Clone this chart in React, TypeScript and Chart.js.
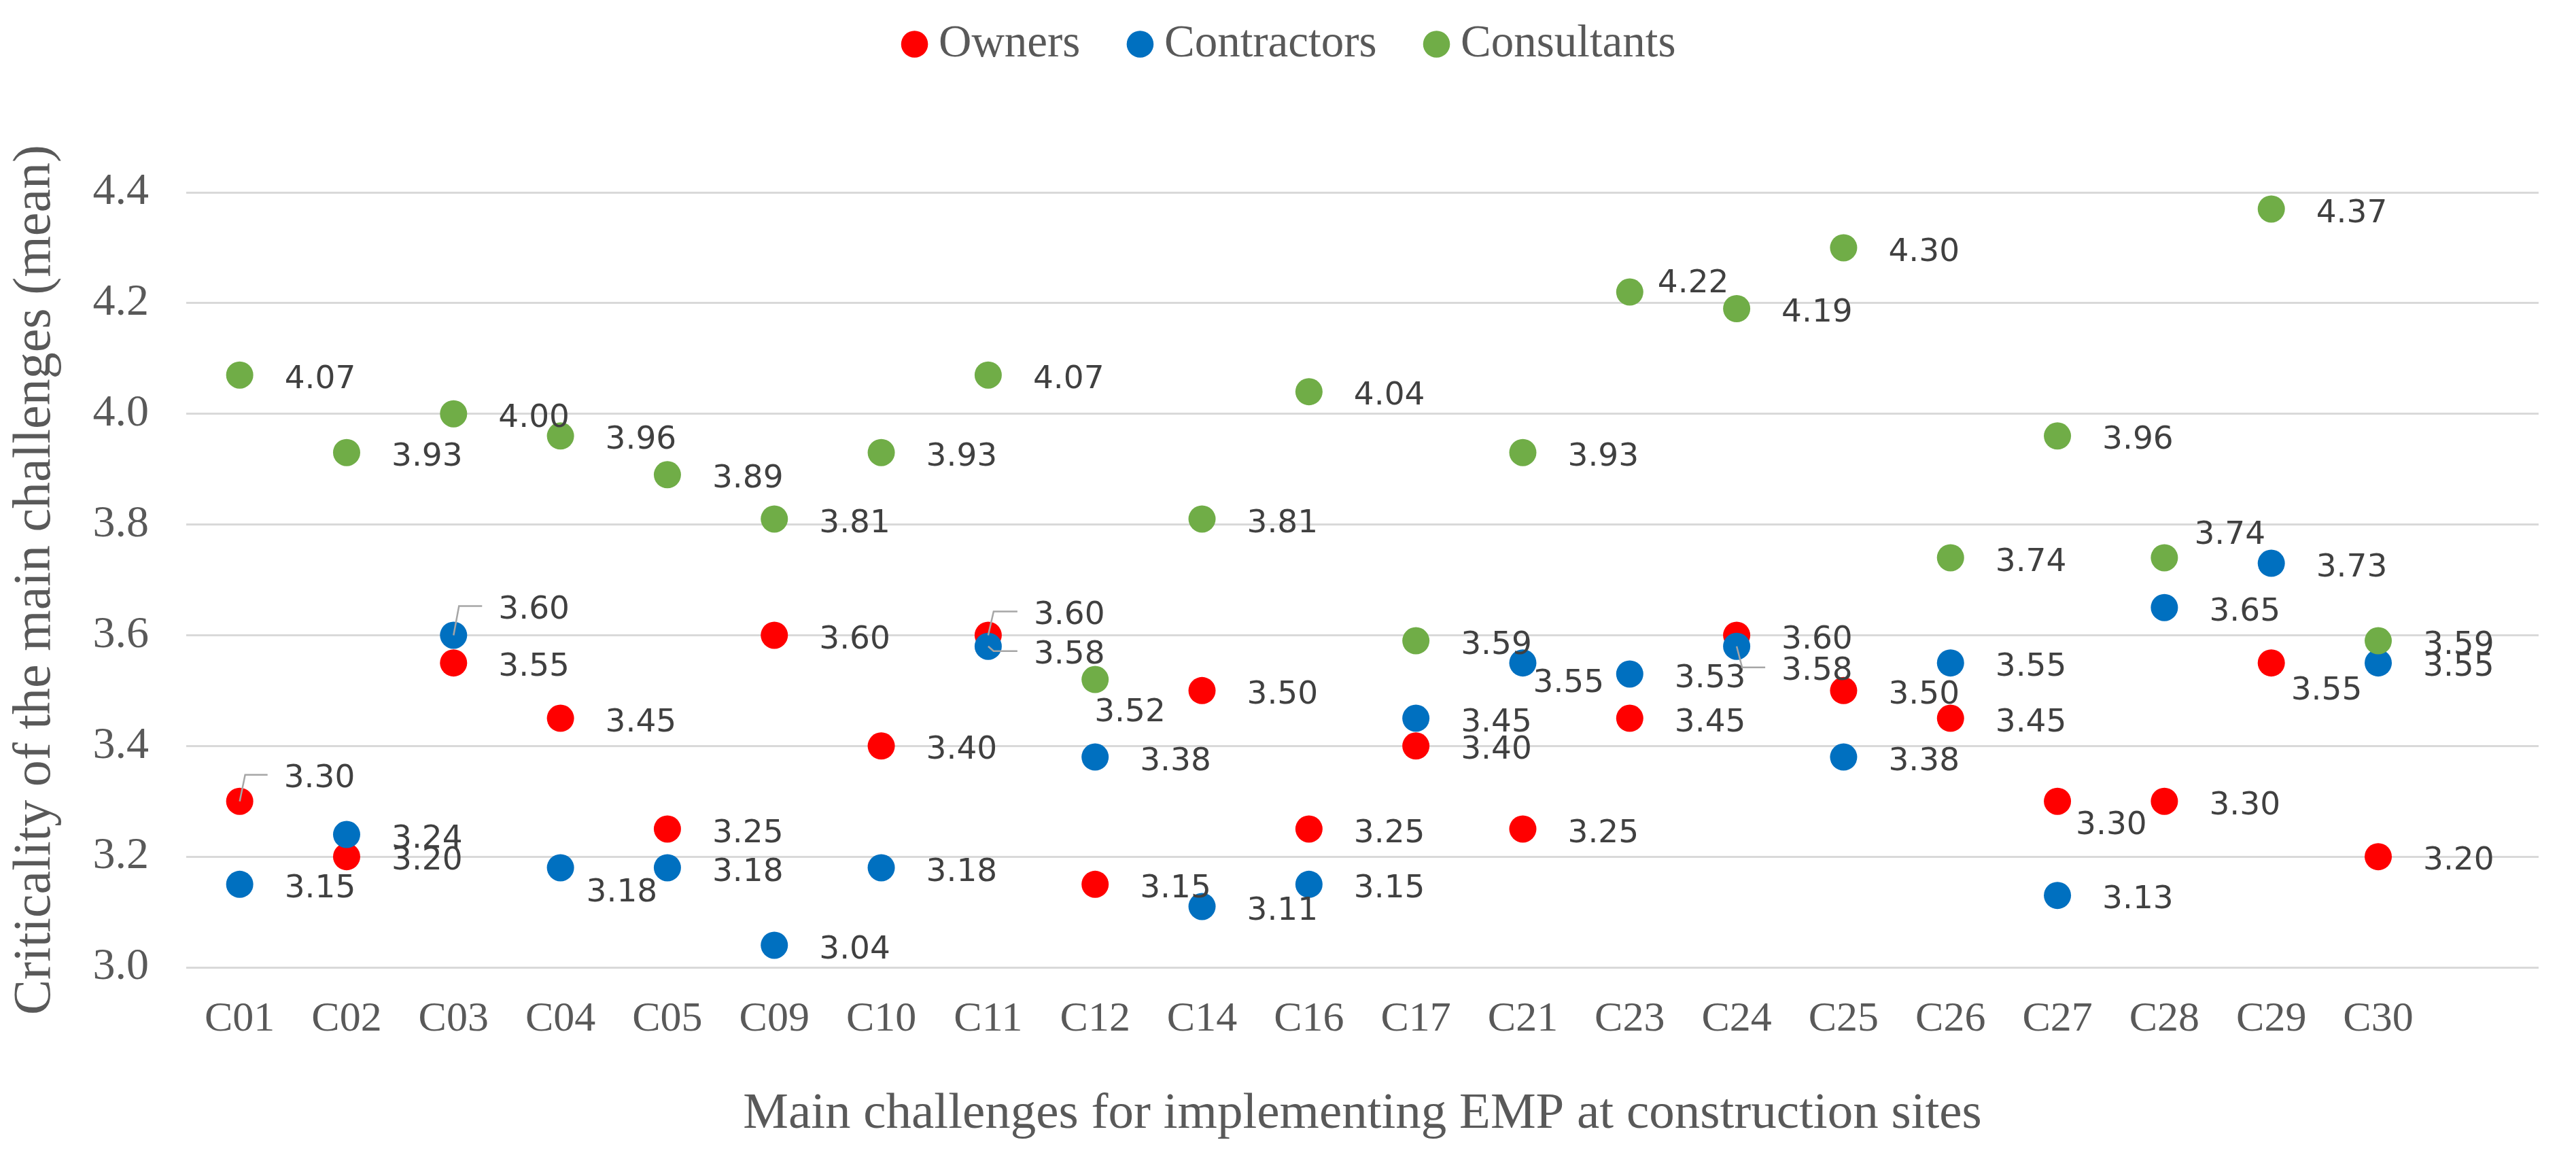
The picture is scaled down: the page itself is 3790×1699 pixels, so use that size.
import React, { useEffect, useRef } from 'react';
import { Chart, registerables } from 'chart.js';

Chart.register(...registerables);

// ---- data ----
const categories = ['C01', 'C02', 'C03', 'C04', 'C05', 'C09', 'C10', 'C11', 'C12', 'C14', 'C16', 'C17', 'C21', 'C23', 'C24', 'C25', 'C26', 'C27', 'C28', 'C29', 'C30', ''];
const seriesNames = ['Owners', 'Contractors', 'Consultants'];
const owners = [3.30, 3.20, 3.55, 3.45, 3.25, 3.60, 3.40, 3.60, 3.15, 3.50, 3.25, 3.40, 3.25, 3.45, 3.60, 3.50, 3.45, 3.30, 3.30, 3.55, 3.20];
const contractors = [3.15, 3.24, 3.60, 3.18, 3.18, 3.04, 3.18, 3.58, 3.38, 3.11, 3.15, 3.45, 3.55, 3.53, 3.58, 3.38, 3.55, 3.13, 3.65, 3.73, 3.55];
const consultants = [4.07, 3.93, 4.00, 3.96, 3.89, 3.81, 3.93, 4.07, 3.52, 3.81, 4.04, 3.59, 3.93, 4.22, 4.19, 4.30, 3.74, 3.96, 3.74, 4.37, 3.59];
const yMin = 3.0;
const yMax = 4.4;
const yStep = 0.2;
const xTitle = 'Main challenges for implementing EMP at construction sites';
const yTitle = 'Criticality of the main challenges (mean)';

// ---- styles ----
const colors = ['#FF0000', '#0070C0', '#70AD47'];
const textGray = '#595959';
const labelGray = '#404040';
const serif = '"Liberation Serif", "Times New Roman", serif';
const sans = '"DejaVu Sans", Verdana, sans-serif';

// label nudges (relative to the point), keyed "series-index"
const defaultNudge = { dx: 66, dy: 7, leader: false };
const labelNudges: Record<string, { dx: number; dy: number; leader?: boolean }> = {
  '0-0': { dx: 65, dy: -33, leader: true },
  '0-7': { dx: 67, dy: -29, leader: true },
  '0-17': { dx: 27, dy: 36 },
  '0-19': { dx: 29, dy: 42 },
  '1-2': { dx: 66, dy: -37, leader: true },
  '1-3': { dx: 38, dy: 37 },
  '1-7': { dx: 67, dy: 13, leader: true },
  '1-12': { dx: 15, dy: 31 },
  '1-14': { dx: 66, dy: 37, leader: true },
  '2-8': { dx: -1, dy: 49 },
  '2-13': { dx: 41, dy: -12 },
  '2-18': { dx: 44, dy: -33 },
};

const valueLabels = {
  id: 'valueLabels',
  afterDatasetsDraw(chart: any) {
    const ctx = chart.ctx;
    ctx.save();
    ctx.font = `47px ${sans}`;
    ctx.textAlign = 'left';
    ctx.textBaseline = 'middle';
    chart.data.datasets.forEach((ds: any, di: number) => {
      const meta = chart.getDatasetMeta(di);
      meta.data.forEach((pt: any, i: number) => {
        const v = ds.data[i];
        if (v == null) return;
        const n = labelNudges[`${di}-${i}`] || defaultNudge;
        const lx = pt.x + n.dx;
        const ly = pt.y + n.dy;
        if (n.leader) {
          ctx.strokeStyle = '#a6a6a6';
          ctx.lineWidth = 2.5;
          ctx.beginPath();
          ctx.moveTo(pt.x, pt.y);
          ctx.lineTo(pt.x + 8, ly - 6);
          ctx.lineTo(lx - 24, ly - 6);
          ctx.stroke();
        }
        ctx.fillStyle = labelGray;
        ctx.fillText(Number(v).toFixed(2), lx, ly);
      });
    });
    ctx.restore();
  },
};

export default function App() {
  const ref = useRef<HTMLCanvasElement | null>(null);

  useEffect(() => {
    if (!ref.current) return;
    const seriesData = [owners, contractors, consultants];
    const chart = new Chart(ref.current, {
      type: 'line',
      data: {
        labels: categories,
        datasets: seriesNames.map((name, i) => ({
          label: name,
          data: seriesData[i],
          backgroundColor: colors[i],
          borderColor: colors[i],
          borderWidth: 0,
          pointRadius: 20,
          pointHoverRadius: 20,
          pointBorderWidth: 0,
          showLine: false,
          order: 3 - i,
        })),
      },
      options: {
        animation: false,
        responsive: true,
        maintainAspectRatio: false,
        devicePixelRatio: 1,
        layout: { padding: { top: -54.5, right: 55, bottom: 0, left: 74 } },
        plugins: {
          legend: {
            position: 'top',
            labels: {
              usePointStyle: true,
              pointStyle: 'circle',
              boxWidth: 4,
              boxHeight: 28,
              padding: 86,
              color: textGray,
              font: { family: serif, size: 67 },
              sort: (a: any, b: any) => a.datasetIndex - b.datasetIndex,
            },
          },
          subtitle: {
            display: true,
            text: '',
            position: 'top',
            weight: 500,
            padding: { top: 162.5, bottom: 0 },
            font: { size: 10 },
          },
          tooltip: { enabled: false },
        },
        scales: {
          x: {
            type: 'category',
            offset: true,
            grid: { display: false, drawTicks: false },
            border: { display: false },
            ticks: {
              color: textGray,
              font: { family: serif, size: 62 },
              padding: 40,
              autoSkip: false,
              maxRotation: 0,
            },
            title: {
              display: true,
              text: xTitle,
              color: textGray,
              font: { family: serif, size: 75 },
              padding: { top: 0, bottom: 15 },
            },
            afterFit: (s: any) => {
              s.height = 276;
            },
          },
          y: {
            min: yMin,
            max: yMax,
            ticks: {
              stepSize: yStep,
              callback: (v: any) => Number(v).toFixed(1),
              padding: 55,
              color: textGray,
              font: { family: serif, size: 66 },
            },
            grid: { color: '#d9d9d9', lineWidth: 3, drawTicks: false },
            border: { display: false },
            title: {
              display: true,
              text: yTitle,
              color: textGray,
              font: { family: serif, size: 78 },
              padding: { top: -68, bottom: 0 },
            },
            afterFit: (s: any) => {
              s.width = 200;
            },
          },
        },
      } as any,
      plugins: [valueLabels],
    });
    return () => chart.destroy();
  }, []);

  return (
    <div style={{ position: 'absolute', left: 0, top: 0, width: 3790, height: 1699, background: '#fff' }}>
      <canvas ref={ref} />
    </div>
  );
}
